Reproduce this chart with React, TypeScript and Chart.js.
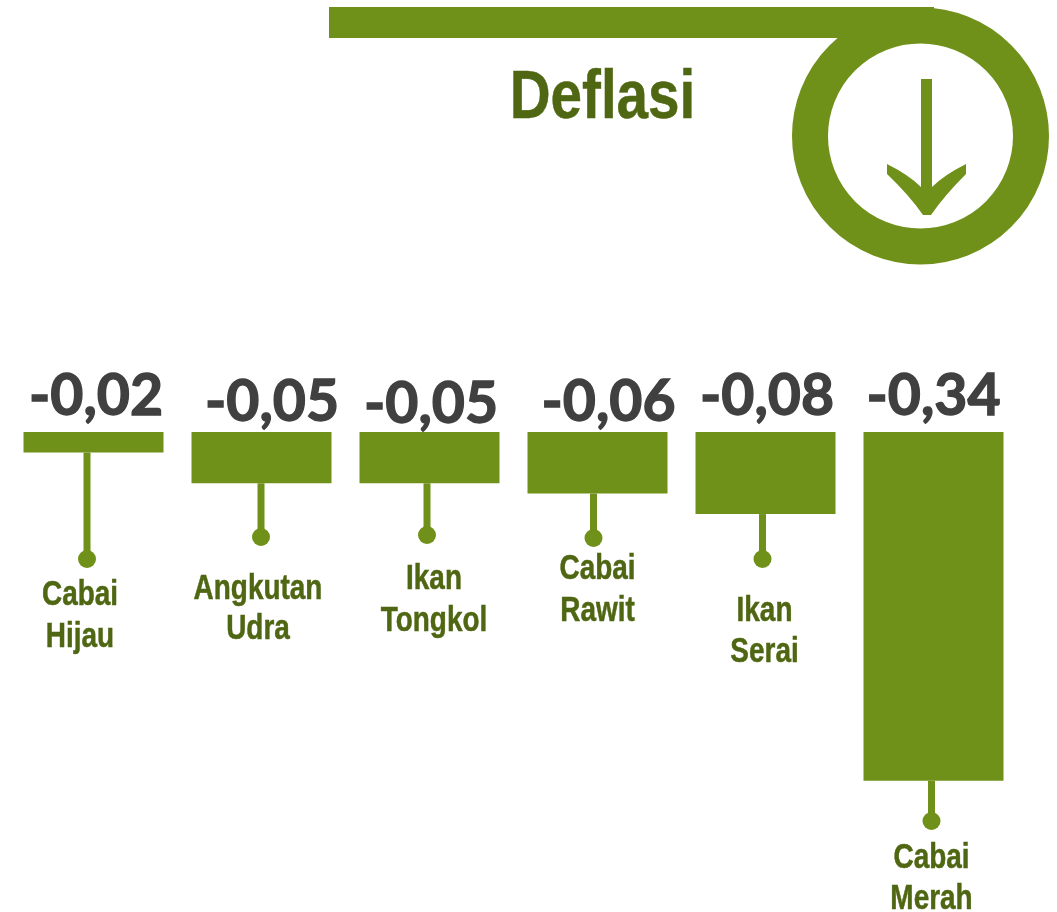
import React, { useEffect, useRef } from "react";
import { Chart, registerables } from "chart.js";

Chart.register(...registerables);

const titleText = "Deflasi";
const categories = [
  ["Cabai", "Hijau"],
  ["Angkutan", "Udra"],
  ["Ikan", "Tongkol"],
  ["Cabai", "Rawit"],
  ["Ikan", "Serai"],
  ["Cabai", "Merah"],
];
const inflationShare = [-0.02, -0.05, -0.05, -0.06, -0.08, -0.34];

// Hand-placed furniture of the infographic (pixels relative to each bar / the page)
const valueDx = [2.5, 10.5, 1.5, 11, 1.5, 0];
const valueBaseline = [415, 421, 423, 421, 415, 415];
const stemDx = [-6.5, -0.5, -2.5, -4, -3, -2];
const stemEndY = [559, 537, 535, 538, 559, 821];
const labelDx = [-13.5, -3.5, 4.5, 0, -1, -2];
const labelBaselines = [
  [605, 647],
  [599, 639],
  [589, 631],
  [579, 621],
  [621, 662],
  [868, 909],
];

const GREEN = "#709119";
const DARK_GREEN = "#4f6612";
const VALUE_GREY = "#404040";
const LABEL_FONT = "bold 34.5px 'Liberation Sans', sans-serif";
const LABEL_SQUEEZE = 0.81;
const TITLE_FONT = "bold 68.5px 'Liberation Sans', sans-serif";
const TITLE_SQUEEZE = 0.826;
const VALUE_FONT = "bold 58px Lato, 'Open Sans', sans-serif";
const VALUE_WIDTH = 134;

const formatValue = (v: number) => v.toFixed(2).replace(".", ",");

function squeezedText(ctx: any, text: string, cx: number, y: number, sx: number, weight: number) {
  ctx.save();
  ctx.translate(cx, y);
  ctx.scale(sx, 1);
  ctx.fillText(text, 0, 0);
  ctx.strokeStyle = ctx.fillStyle;
  ctx.lineWidth = weight;
  ctx.strokeText(text, 0, 0);
  ctx.restore();
}

const valuesPlugin = {
  id: "valuesBehindBars",
  beforeDatasetsDraw(chart: any) {
    const { ctx } = chart;
    const bars = chart.getDatasetMeta(0).data;
    ctx.save();
    ctx.font = VALUE_FONT;
    ctx.fillStyle = VALUE_GREY;
    ctx.textAlign = "center";
    ctx.textBaseline = "alphabetic";
    bars.forEach((bar: any, i: number) => {
      const text = formatValue(inflationShare[i]);
      const sx = VALUE_WIDTH / ctx.measureText(text).width;
      squeezedText(ctx, text, bar.x + valueDx[i], valueBaseline[i], sx, 1.4);
    });
    ctx.restore();
  },
};

const decorPlugin = {
  id: "decor",
  afterDatasetsDraw(chart: any) {
    const { ctx } = chart;
    const bars = chart.getDatasetMeta(0).data;
    ctx.save();

    // stems, dots and category labels
    bars.forEach((bar: any, i: number) => {
      const x = bar.x + stemDx[i];
      ctx.fillStyle = GREEN;
      ctx.fillRect(x - 3.5, bar.y, 7, stemEndY[i] - bar.y);
      ctx.beginPath();
      ctx.arc(x, stemEndY[i], 9, 0, Math.PI * 2);
      ctx.fill();

      ctx.fillStyle = DARK_GREEN;
      ctx.font = LABEL_FONT;
      ctx.textAlign = "center";
      ctx.textBaseline = "alphabetic";
      categories[i].forEach((line, j) => {
        squeezedText(ctx, line, bar.x + labelDx[i], labelBaselines[i][j], LABEL_SQUEEZE, 0.5);
      });
    });

    // header rule + ring
    ctx.fillStyle = GREEN;
    ctx.fillRect(329, 7, 605, 31);
    ctx.strokeStyle = GREEN;
    ctx.lineWidth = 36;
    ctx.beginPath();
    ctx.arc(920.5, 136, 110.5, 0, Math.PI * 2);
    ctx.stroke();

    // down arrow
    ctx.fillRect(921, 79, 11, 110);
    ctx.beginPath();
    ctx.moveTo(887, 164);
    ctx.quadraticCurveTo(909, 175, 921, 187);
    ctx.lineTo(932, 187);
    ctx.quadraticCurveTo(944, 175, 966, 164);
    ctx.lineTo(966, 174);
    ctx.quadraticCurveTo(944, 196, 931, 215);
    ctx.lineTo(923, 215);
    ctx.quadraticCurveTo(910, 196, 887, 174);
    ctx.closePath();
    ctx.fill();

    // title
    ctx.fillStyle = DARK_GREEN;
    ctx.font = TITLE_FONT;
    ctx.textAlign = "center";
    ctx.textBaseline = "alphabetic";
    squeezedText(ctx, titleText, 602.5, 118, TITLE_SQUEEZE, 0.5);
    ctx.restore();
  },
};

export default function App() {
  const ref = useRef<HTMLCanvasElement>(null);

  useEffect(() => {
    if (!ref.current) return;
    const chart = new Chart(ref.current, {
      type: "bar",
      data: {
        labels: categories,
        datasets: [
          {
            data: inflationShare,
            backgroundColor: GREEN,
            borderWidth: 0,
            barPercentage: 140 / 168,
            categoryPercentage: 1,
          },
        ],
      },
      options: {
        responsive: false,
        animation: false,
        layout: { padding: { left: 9.5, right: 39.5, top: 432, bottom: 69.6 } },
        plugins: { legend: { display: false }, tooltip: { enabled: false }, title: { display: false } },
        scales: {
          x: { display: false, grid: { display: false } },
          y: { display: false, min: -0.4, max: 0, grid: { display: false } },
        },
      },
      plugins: [valuesPlugin, decorPlugin],
    });
    return () => chart.destroy();
  }, []);

  return (
    <div style={{ position: "absolute", left: 0, top: 0, width: 1057, height: 912, background: "#fff", overflow: "hidden" }}>
      <canvas ref={ref} width={1057} height={912} style={{ display: "block" }} />
    </div>
  );
}
